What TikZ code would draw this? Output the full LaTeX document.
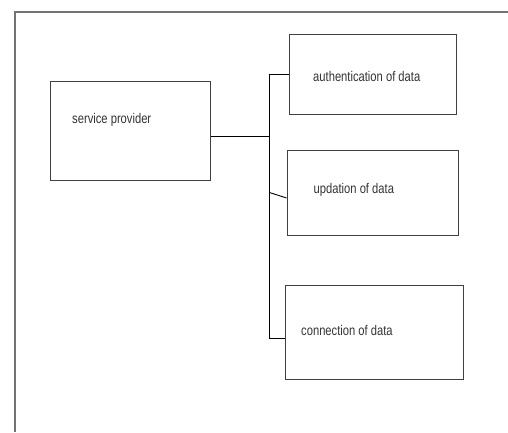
\documentclass[tikz,border=0pt]{standalone}
\usepackage{fontspec}
\setmainfont{Liberation Sans}[FakeStretch=0.8]
\begin{document}
\begin{tikzpicture}[x=1pt, y=-1pt,
    box/.style={draw=black!75, line width=0.9pt, inner sep=0pt},
    lbl/.style={anchor=base west, inner sep=0pt, text=black!80, font=\fontsize{14pt}{16pt}\selectfont},
    link/.style={draw=black, line width=0.9pt}]
  \useasboundingbox (0,0) rectangle (508,432);
  % frame
  \draw[black!55, line width=1.5pt] (15,432) -- (15,12) -- (508,12);

  \node[box, minimum width=160pt, minimum height=99pt] (svc) at (130.5,130.5) {};
  \node[box, minimum width=167pt, minimum height=80pt] (auth) at (372.5,74.5) {};
  \node[box, minimum width=171pt, minimum height=85pt] (upd) at (372.5,192.5) {};
  \node[box, minimum width=178pt, minimum height=94pt] (conn) at (374,332) {};

  \node[lbl] (svctxt) at (72,123) {service provider};
  \node[lbl] (authtxt) at (313,81) {authentication of data};
  \node[lbl] (updtxt) at (313.5,193.5) {updation of data};
  \node[lbl] (conntxt) at (301,335) {connection of data};

  \coordinate (j1) at (269.5,136);
  \coordinate (j2) at (269.5,205);

  \draw[link] ([yshift=-5.5pt]svc.east) -- (j1);
  \draw[link] (auth.west) -| (j2);
  \draw[link] ([yshift=-5.5pt]upd.west) -- (upd.west -| j2);
  \draw[link] (j2) |- ([yshift=-6pt]conn.west);
\end{tikzpicture}
\end{document}
